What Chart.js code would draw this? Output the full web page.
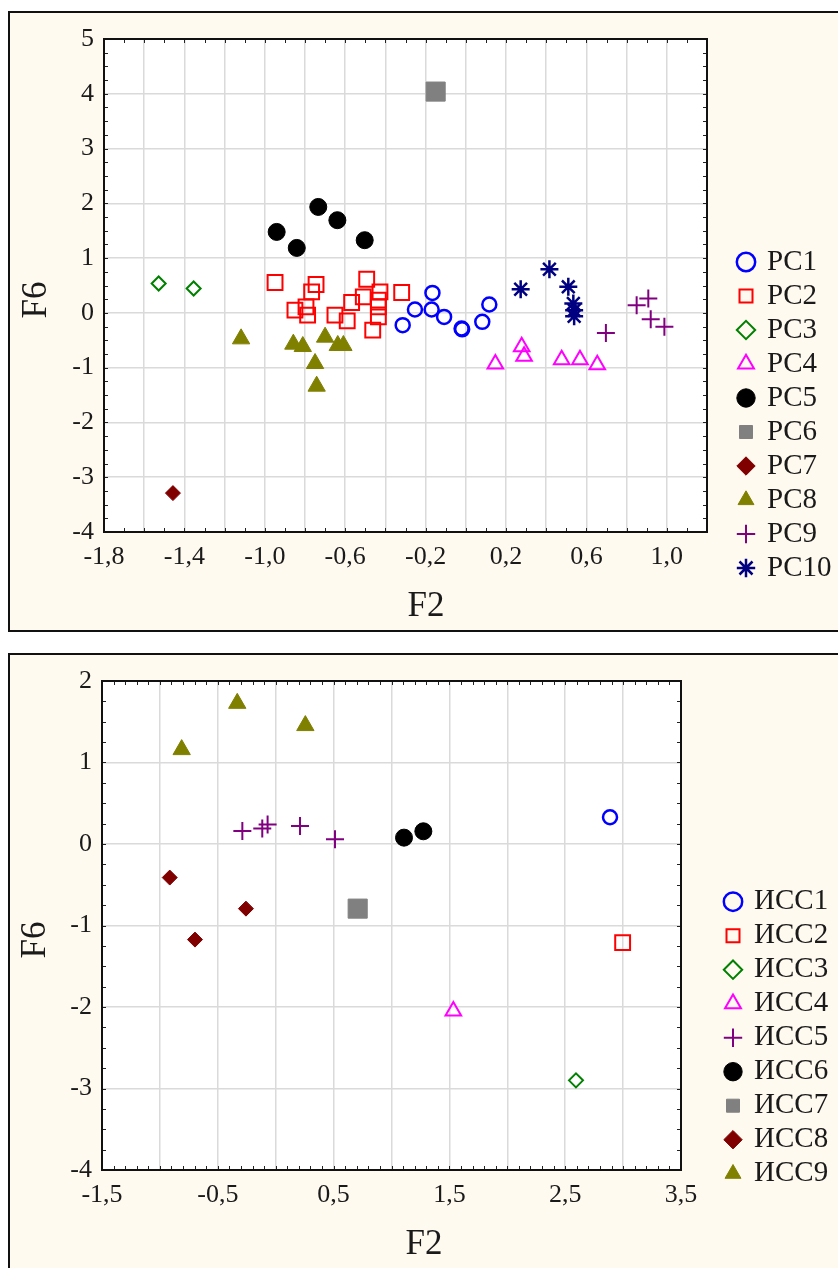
<!DOCTYPE html>
<html>
<head>
<meta charset="utf-8">
<script src="https://cdn.jsdelivr.net/npm/chart.js@4.4.1/dist/chart.umd.min.js"></script>
<style>
  html, body { margin: 0; padding: 0; background: #fff; overflow: hidden; width: 838px; height: 1268px; }
  .panel { position: absolute; left: 8px; width: 850px; border: 2px solid #111; background: #fffaf0; box-sizing: border-box; }
  #topPanel { top: 11px; height: 621px; }
  #bottomPanel { top: 653px; height: 640px; }
  canvas { position: absolute; left: 0; }
  #topChart { top: 0; }
  #bottomChart { top: 640px; }
</style>
</head>
<body>
<div class="panel" id="topPanel"></div>
<div class="panel" id="bottomPanel"></div>
<canvas id="topChart" width="838" height="640"></canvas>
<canvas id="bottomChart" width="838" height="628"></canvas>
<script>
// ---- top chart data (F2, F6) ----
const topNames = ['PC1', 'PC2', 'PC3', 'PC4', 'PC5', 'PC6', 'PC7', 'PC8', 'PC9', 'PC10'];
const pc1 = [[-0.166, 0.365], [-0.253, 0.062], [-0.170, 0.062], [-0.108, -0.073], [-0.314, -0.224],
             [-0.021, -0.285], [-0.018, -0.30], [0.082, -0.164], [0.117, 0.153]];
const pc2 = [[-0.949, 0.555], [-0.745, 0.518], [-0.767, 0.383], [-0.493, 0.615], [-0.427, 0.383],
             [-0.319, 0.372], [-0.510, 0.292], [-0.568, 0.19], [-0.435, 0.232], [-0.435, 0.11],
             [-0.850, 0.05], [-0.795, 0.11], [-0.787, -0.04], [-0.651, -0.04], [-0.590, -0.146],
             [-0.435, -0.073], [-0.463, -0.316]];
const pc3 = [[-1.528, 0.536], [-1.354, 0.445]];
const pc4 = [[0.147, -0.931], [0.278, -0.62], [0.29, -0.79], [0.477, -0.857], [0.568, -0.857], [0.654, -0.949]];
const pc5 = [[-0.941, 1.478], [-0.841, 1.186], [-0.734, 1.934], [-0.639, 1.692], [-0.503, 1.327]];
const pc6 = [[-0.150, 4.04]];
const pc7 = [[-1.457, -3.29]];
const pc8 = [[-1.118, -0.474], [-0.858, -0.571], [-0.811, -0.614], [-0.700, -0.443], [-0.637, -0.595],
             [-0.609, -0.595], [-0.750, -0.924], [-0.742, -1.338]];
const pc9 = [[0.697, -0.365], [0.850, 0.14], [0.908, 0.262], [0.920, -0.115], [0.988, -0.255]];
const pc10 = [[0.273, 0.432], [0.416, 0.797], [0.510, 0.475], [0.535, 0.172], [0.539, 0.05], [0.539, -0.06]];
const topXTicks = [-1.8, -1.4, -1.0, -0.6, -0.2, 0.2, 0.6, 1.0];
const topYTicks = [-4, -3, -2, -1, 0, 1, 2, 3, 4, 5];

// ---- bottom chart data ----
const bottomNames = ['ИСС1', 'ИСС2', 'ИСС3', 'ИСС4', 'ИСС5', 'ИСС6', 'ИСС7', 'ИСС8', 'ИСС9'];
const iss1 = [[2.887, 0.328]];
const iss2 = [[2.996, -1.21]];
const iss3 = [[2.593, -2.90]];
const iss4 = [[1.534, -2.05]];
const iss5 = [[-0.288, 0.16], [-0.116, 0.189], [-0.070, 0.238], [0.210, 0.221], [0.512, 0.058]];
const iss6 = [[1.108, 0.078], [1.275, 0.156]];
const iss7 = [[0.708, -0.793]];
const iss8 = [[-0.915, -0.412], [-0.257, -0.793], [-0.697, -1.173]];
const iss9 = [[-0.332, 1.726], [0.256, 1.453], [-0.812, 1.158]];
const bottomXTicks = [-1.5, -0.5, 0.5, 1.5, 2.5, 3.5];
const bottomYTicks = [-4, -3, -2, -1, 0, 1, 2];

const xName = 'F2';
const yName = 'F6';

// marker looks
const none = 'rgba(0,0,0,0)';
const looks = {
  blueRing:   { pointStyle: 'circle',   pointRadius: 7,    backgroundColor: none, borderColor: '#0000ff', borderWidth: 2.5 },
  redBox:     { pointStyle: 'rect',     pointRadius: 10.5, backgroundColor: none, borderColor: '#ff0000', borderWidth: 2 },
  greenDiam:  { pointStyle: 'rectRot',  pointRadius: 7,    backgroundColor: none, borderColor: '#008000', borderWidth: 2 },
  pinkTri:    { pointStyle: 'triangle', pointRadius: 9,    backgroundColor: none, borderColor: '#ff00ff', borderWidth: 2 },
  blackDot:   { pointStyle: 'circle',   pointRadius: 8.5,  backgroundColor: '#000', borderColor: '#000', borderWidth: 1 },
  greyBox:    { pointStyle: 'rect',     pointRadius: 13.5, backgroundColor: '#808080', borderColor: '#808080', borderWidth: 1 },
  maroonDiam: { pointStyle: 'rectRot',  pointRadius: 7.5,  backgroundColor: '#800000', borderColor: '#800000', borderWidth: 1 },
  oliveTri:   { pointStyle: 'triangle', pointRadius: 10,   backgroundColor: '#808000', borderColor: '#808000', borderWidth: 1 },
  purpleCross:{ pointStyle: 'cross',    pointRadius: 9,    backgroundColor: none, borderColor: '#800080', borderWidth: 2 },
  navyStar:   { pointStyle: 'star',     pointRadius: 9,    backgroundColor: none, borderColor: '#000080', borderWidth: 2.5 }
};

const serif = "'Liberation Serif', 'Times New Roman', serif";
const ink = '#1a1a1a';

function tickText(value, shown, digits) {
  const hit = shown.some(s => Math.abs(s - value) < 1e-6);
  return hit ? value.toFixed(digits).replace('.', ',') : '';
}

function series(names, lists, styleKeys) {
  return names.map((name, i) => Object.assign({
    label: name,
    data: lists[i].map(p => ({ x: p[0], y: p[1] })),
    pointHoverRadius: looks[styleKeys[i]].pointRadius
  }, looks[styleKeys[i]]));
}

// white plot area, inner ticks, frame and axis names
const plotFrame = {
  id: 'plotFrame',
  beforeDraw(chart) {
    const a = chart.chartArea, ctx = chart.ctx;
    ctx.save();
    ctx.fillStyle = '#fff';
    ctx.fillRect(a.left, a.top, a.right - a.left, a.bottom - a.top);
    ctx.restore();
  },
  beforeDatasetsDraw(chart, args, opts) {
    const a = chart.chartArea, ctx = chart.ctx;
    const xs = chart.scales.x, ys = chart.scales.y;
    ctx.save();
    ctx.strokeStyle = '#222';
    ctx.lineWidth = 1;
    ctx.beginPath();
    const nx = Math.round((xs.max - xs.min) / opts.xStep);
    for (let i = 0; i <= nx; i++) {
      const px = Math.round(xs.getPixelForValue(xs.min + i * opts.xStep)) + 0.5;
      ctx.moveTo(px, a.bottom); ctx.lineTo(px, a.bottom - 4);
      ctx.moveTo(px, a.top); ctx.lineTo(px, a.top + 4);
    }
    const ny = Math.round((ys.max - ys.min) / opts.yStep);
    for (let i = 0; i <= ny; i++) {
      const py = Math.round(ys.getPixelForValue(ys.min + i * opts.yStep)) + 0.5;
      ctx.moveTo(a.left, py); ctx.lineTo(a.left + 4, py);
      ctx.moveTo(a.right, py); ctx.lineTo(a.right - 4, py);
    }
    ctx.stroke();
    ctx.lineWidth = 2;
    ctx.strokeStyle = '#111';
    ctx.strokeRect(a.left, a.top, a.right - a.left, a.bottom - a.top);
    ctx.restore();
  },
  afterDraw(chart, args, opts) {
    const ctx = chart.ctx;
    ctx.save();
    ctx.fillStyle = ink;
    ctx.font = '35px ' + serif;
    ctx.textAlign = 'center';
    ctx.textBaseline = 'middle';
    ctx.fillText(xName, opts.xNameAt[0], opts.xNameAt[1]);
    ctx.translate(opts.yNameAt[0], opts.yNameAt[1]);
    ctx.rotate(-Math.PI / 2);
    ctx.fillText(yName, 0, 0);
    ctx.restore();
  }
};

// put the legend where the original has it
const legendSpot = {
  id: 'legendSpot',
  afterLayout(chart, args, opts) {
    const lg = chart.legend;
    lg.left = opts.x; lg.top = opts.y;
    lg.width = 130; lg.height = 420;
    lg.right = opts.x + 130; lg.bottom = opts.y + 420;
  }
};

function makeChart(id, cfg) {
  return new Chart(document.getElementById(id), {
    type: 'scatter',
    data: { datasets: cfg.datasets },
    plugins: [plotFrame, legendSpot],
    options: {
      responsive: false,
      animation: false,
      events: [],
      devicePixelRatio: 1,
      layout: { padding: cfg.padding },
      plugins: {
        tooltip: { enabled: false },
        plotFrame: { xStep: cfg.xMinor, yStep: 0.25, xNameAt: cfg.xNameAt, yNameAt: cfg.yNameAt },
        legendSpot: cfg.legendAt,
        legend: {
          position: 'chartArea',
          align: 'start',
          labels: {
            usePointStyle: true,
            boxWidth: 13,
            boxHeight: 13,
            padding: 5,
            color: ink,
            font: { family: serif, size: 29 }
          }
        }
      },
      scales: {
        x: {
          type: 'linear',
          min: cfg.xMin,
          max: cfg.xMax,
          afterFit: s => { s.height = 96; },
          border: { display: false },
          grid: { color: '#dadada', lineWidth: 1.5, drawTicks: false },
          ticks: {
            stepSize: cfg.xGrid,
            autoSkip: false,
            maxRotation: 0,
            padding: 10,
            color: ink,
            font: { family: serif, size: 26 },
            callback: v => tickText(v, cfg.xTicks, 1)
          }
        },
        y: {
          type: 'linear',
          min: cfg.yMin,
          max: cfg.yMax,
          afterFit: s => { s.width = cfg.yWidth; },
          border: { display: false },
          grid: { color: '#dadada', lineWidth: 1.5, drawTicks: false },
          ticks: {
            stepSize: 1,
            padding: 10,
            color: ink,
            font: { family: serif, size: 26 },
            callback: v => tickText(v, cfg.yTicks, 0)
          }
        }
      }
    }
  });
}

makeChart('topChart', {
  datasets: series(topNames, [pc1, pc2, pc3, pc4, pc5, pc6, pc7, pc8, pc9, pc10],
    ['blueRing', 'redBox', 'greenDiam', 'pinkTri', 'blackDot', 'greyBox', 'maroonDiam', 'oliveTri', 'purpleCross', 'navyStar']),
  xMin: -1.8, xMax: 1.2, xGrid: 0.2, xMinor: 0.1, xTicks: topXTicks,
  yMin: -4, yMax: 5, yTicks: topYTicks,
  yWidth: 104,
  padding: { left: 0, top: 39, right: 131, bottom: 12 },
  xNameAt: [426, 607], yNameAt: [37, 300],
  legendAt: { x: 734.5, y: 242.5 }
});

makeChart('bottomChart', {
  datasets: series(bottomNames, [iss1, iss2, iss3, iss4, iss5, iss6, iss7, iss8, iss9],
    ['blueRing', 'redBox', 'greenDiam', 'pinkTri', 'purpleCross', 'blackDot', 'greyBox', 'maroonDiam', 'oliveTri']),
  xMin: -1.5, xMax: 3.5, xGrid: 0.5, xMinor: 0.1, xTicks: bottomXTicks,
  yMin: -4, yMax: 2, yTicks: bottomYTicks,
  yWidth: 102,
  padding: { left: 0, top: 41, right: 157, bottom: 2 },
  xNameAt: [424, 605], yNameAt: [36, 300],
  legendAt: { x: 721.5, y: 242.2 }
});
</script>
</body>
</html>
